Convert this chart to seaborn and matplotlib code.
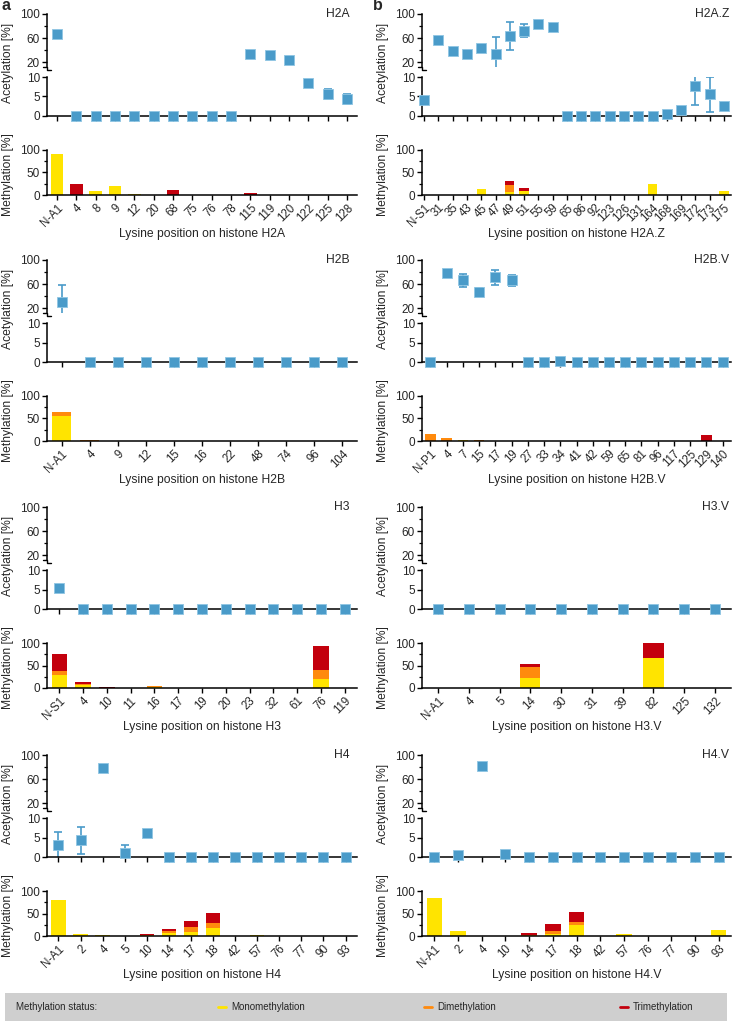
import numpy as np
import matplotlib
matplotlib.use("Agg")
import matplotlib.pyplot as plt
from matplotlib.patches import Rectangle
from matplotlib.lines import Line2D
import seaborn as sns

sns.set_theme(style="ticks")
plt.rcParams["font.family"] = ["Liberation Sans", "DejaVu Sans"]

# ---------------- data ----------------
H2A_sites = ["N-A1", "4", "8", "9", "12", "20", "68", "75", "76", "78", "115", "119", "120", "122", "125", "128"]
H2A_acet = [67, 0, 0, 0, 0, 0, 0, 0, 0, 0, 34, 32, 24, 8.5, 5.6, 4.4]
H2A_err = [0, 0, 0, 0, 0, 0, 0, 0, 0, 0, 0, 0, 0, 0, 1.2, 1.2]
H2A_mono = [91, 0, 8, 20, 3, 0, 0, 0, 0, 0, 0, 0, 0, 0, 1, 0]
H2A_di = [0, 0, 0, 0, 0, 0, 0, 0, 0, 0, 0, 0, 0, 0, 0, 0]
H2A_tri = [0, 25, 0, 0, 0, 0, 12, 0, 0, 0, 4, 0, 0, 0, 0, 0]

H2AZ_sites = ["N-S1", "31", "35", "43", "45", "47", "49", "51", "55", "59", "65", "86", "92", "123", "126",
              "131", "164", "168", "169", "172", "173", "175"]
H2AZ_acet = [4.0, 57, 38, 34, 44, 34, 64, 72, 83, 78, 0, 0, 0, 0, 0, 0, 0, 0.6, 1.5, 7.6, 5.6, 2.6]
H2AZ_err = [0, 4, 3, 3, 5, 27, 23, 11, 6, 6, 0, 0, 0, 0, 0, 0, 0, 0, 0, 4.7, 4.5, 0.6]
H2AZ_mono = [0, 0, 0, 0, 13, 0, 6, 8, 0, 0, 0, 0, 0, 0, 0, 0, 25, 1, 0, 0, 0, 8]
H2AZ_di = [0, 0, 0, 0, 0, 0, 16, 0, 0, 0, 0, 0, 0, 0, 0, 0, 0, 0, 0, 0, 0, 0]
H2AZ_tri = [0, 0, 0, 0, 0, 0, 9, 7, 0, 0, 0, 0, 0, 0, 0, 0, 0, 0, 0, 0, 0, 0]

H2B_sites = ["N-A1", "4", "9", "12", "15", "16", "22", "48", "74", "96", "104"]
H2B_acet = [31, 0, 0, 0, 0, 0, 0, 0, 0, 0, 0]
H2B_err = [28, 0, 0, 0, 0, 0, 0, 0, 0, 0, 0]
H2B_mono = [56, 0, 0, 0, 0, 0, 0, 0, 0, 0, 0]
H2B_di = [8, 2, 0, 0, 0, 0, 0, 0, 0, 0, 0]
H2B_tri = [0, 0, 0, 0, 0, 0, 0, 0, 0, 0, 0]

H2BV_sites = ["N-P1", "4", "7", "15", "17", "19", "27", "33", "34", "41", "42", "59", "65", "81", "96",
              "117", "125", "129", "140"]
H2BV_acet = [0, 79, 66, 47, 71, 66, 0, 0, 0.35, 0, 0, 0, 0, 0, 0, 0, 0, 0, 0]
H2BV_err = [0, 2, 11, 6, 13, 9, 0, 0, 0, 0, 0, 0, 0, 0, 0, 0, 0, 0, 0]
H2BV_mono = [0, 0, 3, 1, 1, 0, 0, 0, 0, 0, 0, 0, 0, 0, 0, 0, 0, 0, 0]
H2BV_di = [15, 6, 0, 1, 0, 0, 0, 0, 0, 0, 0, 0, 0, 0, 0, 0, 0, 0, 0]
H2BV_tri = [0, 0, 0, 0, 0, 0, 0, 0, 0, 0, 0, 0, 0, 0, 0, 0, 0, 13, 0]

H3_sites = ["N-S1", "4", "10", "11", "16", "17", "19", "20", "23", "32", "61", "76", "119"]
H3_acet = [5.4, 0, 0, 0, 0, 0, 0, 0, 0, 0, 0, 0, 0]
H3_err = [0, 0, 0, 0, 0, 0, 0, 0, 0, 0, 0, 0, 0]
H3_mono = [28, 7, 0, 0, 3, 1, 1, 0, 0, 0, 0, 21, 0]
H3_di = [10, 2, 0, 0, 1, 0, 0, 0, 0.5, 0, 0, 19, 0]
H3_tri = [37, 4, 1.5, 0, 0, 0, 0, 0, 0.5, 0, 0, 53, 0]

H3V_sites = ["N-A1", "4", "5", "14", "30", "31", "39", "82", "125", "132"]
H3V_acet = [0, 0, 0, 0, 0, 0, 0, 0, 0, 0]
H3V_err = [0, 0, 0, 0, 0, 0, 0, 0, 0, 0]
H3V_mono = [0, 0, 0, 23, 0, 0, 0, 66, 0, 0]
H3V_di = [0, 0, 0, 23, 0, 0, 0, 0, 0, 0]
H3V_tri = [0, 0, 0, 7, 0, 0, 0, 34, 0, 0]

H4_sites = ["N-A1", "2", "4", "5", "10", "14", "17", "18", "42", "57", "76", "77", "90", "93"]
H4_acet = [3.0, 4.3, 79, 1.1, 6.1, 0, 0, 0, 0, 0, 0, 0, 0, 0]
H4_err = [3.5, 3.5, 0, 1.9, 0, 0, 0, 0, 0, 0, 0, 0, 0, 0]
H4_mono = [80, 4.5, 2, 0, 0, 7, 8, 17, 0, 2, 0, 0, 0, 0]
H4_di = [0, 0, 0, 0, 3, 5, 11, 13, 0, 0, 0, 0, 0, 0]
H4_tri = [0, 0, 0, 0, 2, 4, 14, 22, 0, 0, 0, 0, 0, 0]

H4V_sites = ["N-A1", "2", "4", "10", "14", "17", "18", "42", "57", "76", "77", "90", "93"]
H4V_acet = [0, 0.5, 81, 0.8, 0, 0, 0, 0, 0, 0, 0, 0, 0]
H4V_err = [0, 0, 0, 0, 0, 0, 0, 0, 0, 0, 0, 0, 0]
H4V_mono = [85, 12, 0, 0, 1, 4.5, 24, 0, 4, 0, 0, 0, 14]
H4V_di = [0, 0, 0, 0, 2, 7.5, 8, 0, 0, 0, 0, 0, 0]
H4V_tri = [0, 0, 0, 0, 3, 14, 21, 0, 0, 0, 0, 0, 0]

legend_labels = ["Monomethylation", "Dimethylation", "Trimethylation"]

panels = [
    ("H2A", H2A_sites, H2A_acet, H2A_err, H2A_mono, H2A_di, H2A_tri),
    ("H2A.Z", H2AZ_sites, H2AZ_acet, H2AZ_err, H2AZ_mono, H2AZ_di, H2AZ_tri),
    ("H2B", H2B_sites, H2B_acet, H2B_err, H2B_mono, H2B_di, H2B_tri),
    ("H2B.V", H2BV_sites, H2BV_acet, H2BV_err, H2BV_mono, H2BV_di, H2BV_tri),
    ("H3", H3_sites, H3_acet, H3_err, H3_mono, H3_di, H3_tri),
    ("H3.V", H3V_sites, H3V_acet, H3V_err, H3V_mono, H3V_di, H3V_tri),
    ("H4", H4_sites, H4_acet, H4_err, H4_mono, H4_di, H4_tri),
    ("H4.V", H4V_sites, H4V_acet, H4V_err, H4V_mono, H4V_di, H4V_tri),
]

# ---------------- style ----------------
W, H = 732, 1021
BLUE = "#4a9bc9"
BLUE_EDGE = "#8fc6e3"
YELLOW = "#ffe400"
ORANGE = "#ff8a0d"
RED = "#c3000d"
TFS = 8.5
XFS = 8.3
LFS = 8.7

fig = plt.figure(figsize=(W / 100, H / 100), dpi=100)
fig.patch.set_facecolor("white")

def rect(x0, x1, ytop, ybot):
    return [x0 / W, 1 - ybot / H, (x1 - x0) / W, (ybot - ytop) / H]

cols = [(47, 357), (422, 731)]
offs = [0, 246, 493, 741]

def style_ax(ax):
    ax.set_facecolor("white")
    for s in ["top", "right"]:
        ax.spines[s].set_visible(False)
    for s in ["left", "bottom"]:
        ax.spines[s].set_linewidth(1.1)
        ax.spines[s].set_color("black")
    ax.tick_params(axis="both", which="major", length=3.5, width=1.0, color="black",
                   labelsize=TFS, pad=1.5, direction="out")
    ax.tick_params(axis="both", which="minor", length=2.2, width=0.9, color="black", direction="out")
    ax.grid(False)

for i, (name, sites, acet, err, mono, di, tri) in enumerate(panels):
    c, r = i % 2, i // 2
    x0, x1 = cols[c]
    off = offs[r]
    n = len(sites)
    x = np.arange(n)
    if name == "H2A.Z":
        xl = (-0.15, n - 0.5)
    else:
        xl = (-0.52, n - 0.48)
    acet = np.array(acet, float)
    err = np.array(err, float)
    hi = acet > 10
    lo = ~hi

    # upper acetylation axis (broken)
    ax_u = fig.add_axes(rect(x0, x1, 14 + off, 67 + off))
    style_ax(ax_u)
    ax_u.spines["bottom"].set_visible(False)
    ax_u.set_xlim(*xl)
    ax_u.set_ylim(12, 100)
    ax_u.set_yticks([20, 60, 100])
    ax_u.set_yticks([40, 80], minor=True)
    ax_u.set_xticks([])
    if hi.any():
        ax_u.errorbar(x[hi], acet[hi], yerr=err[hi], fmt="none", ecolor=BLUE, elinewidth=1.2,
                      capsize=3, capthick=1.2, zorder=2)
        sns.scatterplot(x=x[hi], y=acet[hi], marker="s", s=42, color=BLUE, edgecolor=BLUE_EDGE,
                        linewidth=0.6, ax=ax_u, zorder=3, legend=False)
    # break mark
    ax_u.plot([-0.012, 0.0, 0.0, 0.012], [0.0, 0.0, -0.06, -0.06], transform=ax_u.transAxes,
              color="black", lw=1.0, clip_on=False)
    ax_u.text(0.975 if c == 0 else 0.995, 1.0, name, transform=ax_u.transAxes,
              ha="right", va="center", fontsize=LFS)
    ax_u.set_xlabel("")
    ax_u.set_ylabel("")

    # lower acetylation axis
    ax_m = fig.add_axes(rect(x0, x1, 77 + off, 116 + off))
    style_ax(ax_m)
    ax_m.set_xlim(*xl)
    ax_m.set_ylim(0, 10)
    ax_m.set_yticks([0, 5, 10])
    ax_m.set_xticks(x)
    ax_m.set_xticklabels([])
    if lo.any():
        ax_m.errorbar(x[lo], acet[lo], yerr=err[lo], fmt="none", ecolor=BLUE, elinewidth=1.2,
                      capsize=3, capthick=1.2, zorder=2)
        sns.scatterplot(x=x[lo], y=acet[lo], marker="s", s=42, color=BLUE, edgecolor=BLUE_EDGE,
                        linewidth=0.6, ax=ax_m, zorder=5, legend=False, clip_on=False)
    ax_m.set_xlabel("")
    ax_m.set_ylabel("")

    # methylation axis
    ax_b = fig.add_axes(rect(x0, x1, 150 + off, 195 + off))
    style_ax(ax_b)
    ax_b.set_xlim(*xl)
    ax_b.set_ylim(0, 100)
    ax_b.set_yticks([0, 50, 100])
    ax_b.set_yticks([25, 75], minor=True)
    mono = np.array(mono, float)
    di = np.array(di, float)
    tri = np.array(tri, float)
    ax_b.bar(x, mono, width=0.66, color=YELLOW, linewidth=0, zorder=2)
    ax_b.bar(x, di, bottom=mono, width=0.66, color=ORANGE, linewidth=0, zorder=2)
    ax_b.bar(x, tri, bottom=mono + di, width=0.66, color=RED, linewidth=0, zorder=2)
    ax_b.set_xticks(x)
    ax_b.set_xticklabels(sites, rotation=45, ha="right", rotation_mode="anchor", fontsize=XFS)

    # axis labels
    lx = 8 if c == 0 else 383
    fig.text(lx / W, 1 - (63 + off) / H, "Acetylation [%]", rotation=90, ha="center", va="center",
             fontsize=LFS)
    fig.text(lx / W, 1 - (175 + off) / H, "Methylation [%]", rotation=90, ha="center", va="center",
             fontsize=LFS)
    fig.text(((x0 + x1) / 2) / W, 1 - (234 + off) / H, "Lysine position on histone " + name,
             ha="center", va="center", fontsize=LFS)

# panel letters
fig.text(2 / W, 1 - 6 / H, "a", fontsize=11.5, fontweight="bold", ha="left", va="center")
fig.text(373 / W, 1 - 6 / H, "b", fontsize=11.5, fontweight="bold", ha="left", va="center")

# legend box
fig.patches.append(Rectangle((5 / W, 1 - 1021 / H), 722 / W, 28 / H, transform=fig.transFigure,
                             facecolor="#cfcfcf", edgecolor="none", zorder=0))
ly = 1 - 1007 / H
fig.text(16 / W, ly, "Methylation status:", fontsize=7, ha="left", va="center")
for xm, col, lab in zip([222, 428, 624], [YELLOW, ORANGE, RED], legend_labels):
    fig.lines.append(Line2D([(xm - 4) / W, (xm + 4) / W], [ly, ly], transform=fig.transFigure,
                            color=col, lw=2))
    fig.text((xm + 9) / W, ly, lab, fontsize=7, ha="left", va="center")

fig.savefig("out.png", dpi=100, facecolor="white")
